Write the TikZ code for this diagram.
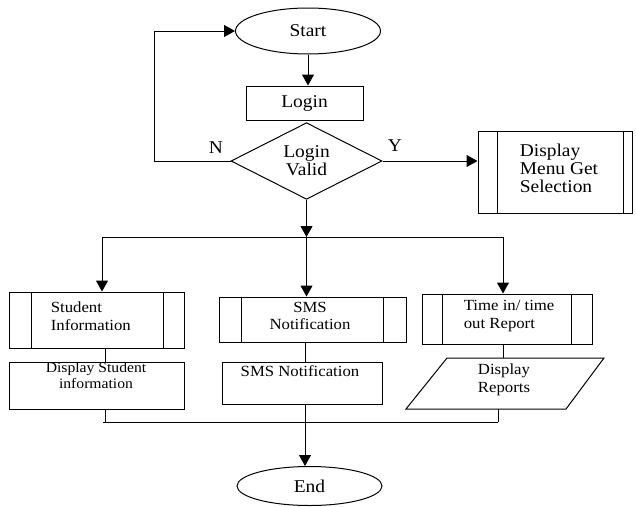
\documentclass[tikz,border=0pt]{standalone}
\usepackage{fontspec}
\setmainfont{Liberation Serif}[FakeStretch=1.08]
\usetikzlibrary{shapes.geometric,arrows.meta}
\begin{document}
\begin{tikzpicture}[x=1pt,y=-1pt, line width=1pt,
  arr/.style={-{Triangle[length=11pt,width=12pt]}},
  bigtext/.style={font=\fontsize{18}{18}\selectfont},
  smalltext/.style={font=\fontsize{15.5}{17.5}\selectfont},
  box/.style={draw, rectangle, inner sep=0pt},
  oval/.style={draw, ellipse, inner sep=0pt, bigtext}]
\useasboundingbox (0,0) rectangle (636,506);

% top part
\node[oval, minimum width=145pt, minimum height=46pt] (start) at (308,31) {Start};
\node[box, bigtext, minimum width=117pt, minimum height=34pt] (login) at (304.5,103) {Login};
\node[draw, diamond, inner sep=0pt, minimum width=151pt, minimum height=76pt, bigtext, align=center] (valid) at (306.5,161) {Login\\Valid};
\node[box, minimum width=154pt, minimum height=82pt] (menu) at (555,172) {};
\node[bigtext, align=left, anchor=west] (menutxt) at (516,168) {Display\\Menu Get\\Selection};
\draw ([xshift=20pt]menu.north west) -- ([xshift=20pt]menu.south west);
\draw ([xshift=-9pt]menu.north east) -- ([xshift=-9pt]menu.south east);

\node[bigtext] (nlab) at (216,148) {N};
\node[bigtext] (ylab) at (395,146) {Y};

% middle row
\node[box, minimum width=175pt, minimum height=56pt] (stud) at (96.5,320) {};
\node[smalltext, align=left, anchor=west] (studtxt) at (47,316) {Student\\Information};
\draw ([xshift=23pt]stud.north west) -- ([xshift=23pt]stud.south west);
\draw ([xshift=-21pt]stud.north east) -- ([xshift=-21pt]stud.south east);

\node[box, minimum width=187pt, minimum height=45pt] (sms) at (312.5,319.5) {};
\node[smalltext, align=center] (smstxt) at (310,316) {SMS\\Notification};
\draw ([xshift=23pt]sms.north west) -- ([xshift=23pt]sms.south west);
\draw ([xshift=-23pt]sms.north east) -- ([xshift=-23pt]sms.south east);

\node[box, minimum width=170pt, minimum height=50pt] (time) at (507,319) {};
\node[smalltext, align=left, anchor=west] (timetxt) at (460,316) {Time in/ time\\out Report};
\draw ([xshift=21pt]time.north west) -- ([xshift=21pt]time.south west);
\draw ([xshift=-21pt]time.north east) -- ([xshift=-21pt]time.south east);

% lower row
\node[box, minimum width=175pt, minimum height=47pt] (dstud) at (96.5,385.5) {};
\node[font=\fontsize{14.5}{16}\selectfont, align=center] (dstudtxt) at (96,376) {Display Student\\information};
\node[box, minimum width=160pt, minimum height=42pt] (smsr) at (302,383) {};
\node[smalltext] (smsrtxt) at (300,371) {SMS Notification};
\coordinate (prTL) at (447,358);
\coordinate (prTR) at (604,358);
\coordinate (prBR) at (566,409);
\coordinate (prBL) at (406,409);
\draw (prBL) -- (prBR) -- (prTR) -- (prTL) -- cycle;
\node[smalltext, align=left] (reptxt) at (504,380) {Display\\Reports};
\coordinate (prtop) at (503,358);
\coordinate (prbot) at (498,409);

\node[oval, minimum width=145pt, minimum height=39pt] (end) at (309.5,486) {End};

% connectors
\coordinate (loopx) at (154,0);
\draw[arr] (start.south) -- (start.south |- login.north);
\draw[arr] (valid.west) -- (valid.west -| loopx) |- (start.west);
\draw[arr] (valid.east) -- (valid.east -| menu.west);

\coordinate (jc) at (306.5,237);
\coordinate (jl) at (102,237);
\coordinate (jr) at (503,237);
\draw[arr] (valid.south) -- (jc);
\draw (jl) -- (jr);
\draw[arr] (jl) -- (jl |- stud.north);
\draw[arr] (jc) -- (jc |- sms.north);
\draw[arr] (jr) -- (jr |- time.north);

\coordinate (cl) at (105,0);
\coordinate (cm) at (305,0);
\draw (stud.south -| cl) -- (dstud.north -| cl);
\draw (sms.south -| cm) -- (smsr.north -| cm);
\draw (time.south -| jr) -- (prtop);

\coordinate (bl) at (103,422);
\coordinate (br) at (498,422);
\draw (bl) -- (br);
\draw (dstud.south -| cl) -- (cl |- bl);
\draw (prbot) -- (br);
\draw (smsr.south -| cm) -- (cm |- bl);
\draw[arr] (cm |- bl) -- (cm |- end.north);
\end{tikzpicture}
\end{document}
